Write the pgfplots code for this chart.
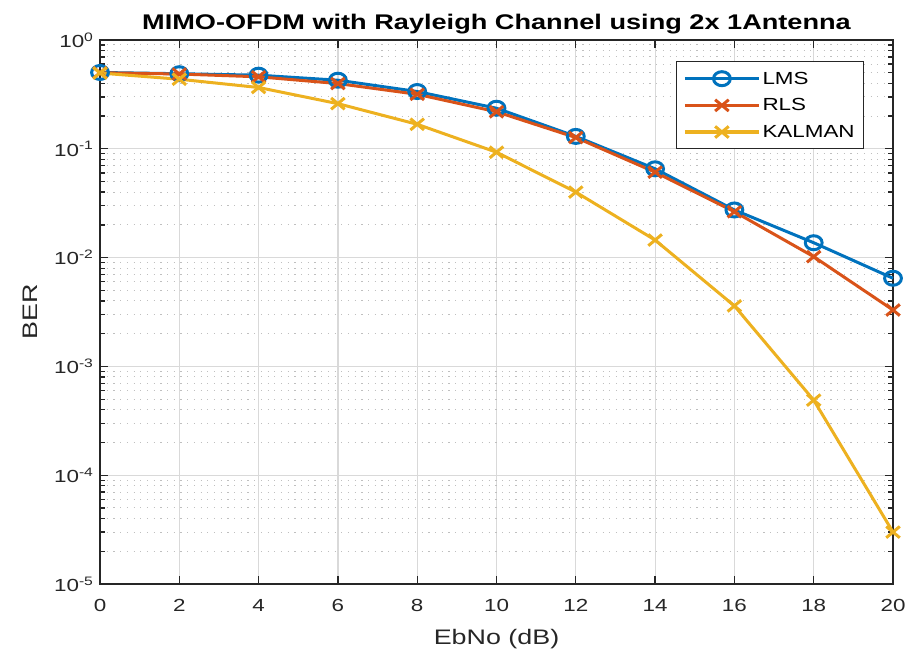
\documentclass[border=0pt]{standalone}
\usepackage{fontspec}
\setmainfont{Liberation Sans}[FakeStretch=1.28]
\usepackage{pgfplots}
\pgfplotsset{compat=1.18}

\definecolor{mblue}{rgb}{0,0.447,0.741}
\definecolor{mred}{rgb}{0.85,0.325,0.098}
\definecolor{myellow}{rgb}{0.929,0.694,0.125}
\definecolor{axgray}{rgb}{0.15,0.15,0.15}

\begin{document}
\begin{tikzpicture}
\useasboundingbox (-100pt,-70pt) rectangle (809pt,584pt);
\begin{axis}[
  at={(0pt,0pt)}, anchor=south west,
  scale only axis, width=793pt, height=544pt,
  xmin=0, xmax=20, ymin=1e-5, ymax=1, ymode=log,
  clip=false,
  /pgf/number format/assume math mode=true,
  xtick={0,2,...,20},
  ytick={1e-5,1e-4,1e-3,1e-2,1e-1,1},
  yticklabels={10\textsuperscript{-5},10\textsuperscript{-4},10\textsuperscript{-3},10\textsuperscript{-2},10\textsuperscript{-1},10\textsuperscript{0}},
  minor ytick={2e-5,3e-5,4e-5,5e-5,6e-5,7e-5,8e-5,9e-5,
               2e-4,3e-4,4e-4,5e-4,6e-4,7e-4,8e-4,9e-4,
               2e-3,3e-3,4e-3,5e-3,6e-3,7e-3,8e-3,9e-3,
               2e-2,3e-2,4e-2,5e-2,6e-2,7e-2,8e-2,9e-2,
               0.2,0.3,0.4,0.5,0.6,0.7,0.8,0.9},
  xmajorgrids, ymajorgrids, yminorgrids,
  major grid style={color=black!15, line width=1.2pt},
  minor grid style={color=black!25, line width=1pt, dash pattern=on 1.2pt off 5.5pt},
  tick align=inside,
  major tick length=8pt, minor tick length=5pt,
  every tick/.style={color=axgray, line width=1.3pt},
  axis line style={color=axgray, line width=1.8pt},
  tick label style={font=\fontsize{17.5}{20}\selectfont, color=axgray},
  xticklabel style={yshift=-12pt},
  yticklabel style={xshift=-3pt},
  xlabel={EbNo (dB)},
  xlabel style={font=\fontsize{21}{24}\selectfont, color=axgray, yshift=-10pt},
  ylabel={BER},
  ylabel style={font=\fontsize{21}{24}\selectfont, color=axgray, yshift=10pt},
  title={MIMO-OFDM with Rayleigh Channel using 2x 1Antenna},
  title style={font=\bfseries\fontsize{21.2}{24}\selectfont, yshift=-4pt},
  legend style={at={(0.726,0.961)}, anchor=north west, draw=axgray, line width=1.2pt,
    font=\fontsize{17.5}{20}\selectfont, inner xsep=7pt, inner ysep=8pt,
    row sep=9pt, cells={anchor=west}},
  legend image code/.code={
    \draw[line width=3.2pt, mark repeat=2, mark phase=2] plot coordinates {(0pt,0pt) (37pt,0pt) (74pt,0pt)};
  },
  every axis plot/.append style={line width=3pt},
]
\addplot[color=mblue, mark=o, mark size=7pt, mark options={xscale=1.2, line width=3pt}]
  coordinates {(0,0.503) (2,0.490) (4,0.475) (6,0.427) (8,0.336) (10,0.236)
               (12,0.130) (14,0.0655) (16,0.0274) (18,0.0137) (20,0.00646)};
\addlegendentry{LMS}
\addplot[color=mred, mark=x, mark size=8pt, mark options={xscale=1.2, line width=3pt}]
  coordinates {(0,0.500) (2,0.487) (4,0.459) (6,0.398) (8,0.317) (10,0.219)
               (12,0.127) (14,0.0610) (16,0.0264) (18,0.0102) (20,0.0033)};
\addlegendentry{RLS}
\addplot[color=myellow, mark=x, mark size=8pt, mark options={xscale=1.2, line width=3pt}]
  coordinates {(0,0.497) (2,0.436) (4,0.366) (6,0.260) (8,0.168) (10,0.093)
               (12,0.040) (14,0.0145) (16,0.0036) (18,0.00049) (20,0.00003)};
\addlegendentry{KALMAN}
\end{axis}
\end{tikzpicture}
\end{document}
